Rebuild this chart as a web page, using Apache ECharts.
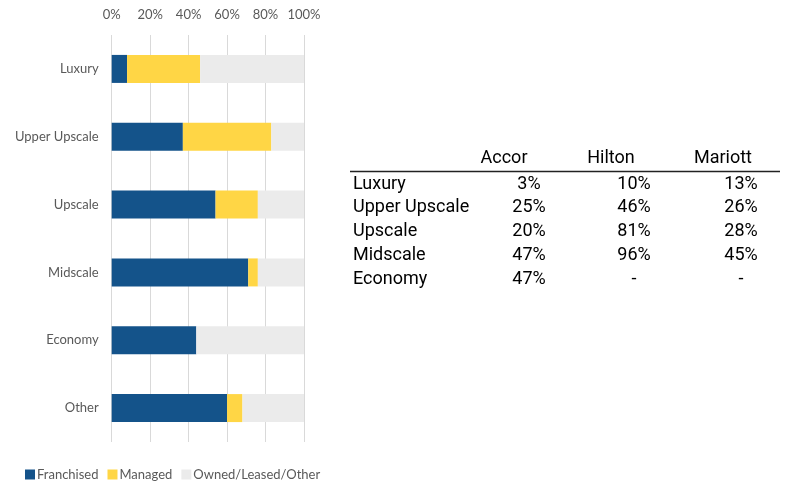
<!DOCTYPE html>
<html><head><meta charset="utf-8">
<script src="https://cdn.jsdelivr.net/npm/echarts@6/dist/echarts.min.js"></script>
<style>html,body{margin:0;padding:0;background:#fff}#c{width:787px;height:483px}</style>
</head><body><div id="c"></div>
<script>
const categories = ['Luxury','Upper Upscale','Upscale','Midscale','Economy','Other'];
const franchised = [8, 37, 54, 71, 44, 60];
const managed = [38, 46, 22, 5, 0, 8];
const owned = [54, 17, 24, 24, 56, 32];
const seriesNames = ['Franchised','Managed','Owned/Leased/Other'];
const xTicks = [0, 20, 40, 60, 80, 100];

const tableHeaders = ['Accor','Hilton','Mariott'];
const tableRows = ['Luxury','Upper Upscale','Upscale','Midscale','Economy'];
const accor = ['3%','25%','20%','47%','47%'];
const hilton = ['10%','46%','81%','96%','-'];
const mariott = ['13%','26%','28%','45%','-'];

const chart = echarts.init(document.getElementById('c'), null, {renderer:'canvas'});
const tf = {fontFamily:'Roboto', fontSize:18, fill:'#000'};
const graphic = [];
const colX = [504, 611, 723];
const valX = [529, 634, 741];
tableHeaders.forEach((h,i)=>graphic.push({type:'text', x:colX[i], y:158, style:Object.assign({text:h, textAlign:'center', textVerticalAlign:'middle'}, tf)}));
graphic.push({type:'line', shape:{x1:350,y1:171.5,x2:780,y2:171.5}, style:{stroke:'#222', lineWidth:1.5}});
const cols = [accor, hilton, mariott];
tableRows.forEach((r,j)=>{
  const y = 184 + j*23.8;
  graphic.push({type:'text', x:353, y:y, style:Object.assign({text:r, textAlign:'left', textVerticalAlign:'middle'}, tf)});
  cols.forEach((c,i)=>graphic.push({type:'text', x:valX[i], y:y, style:Object.assign({text:c[j], textAlign:'center', textVerticalAlign:'middle'}, tf)}));
});

const lab = {fontFamily:'Lato', fontSize:13, color:'#595959'};
chart.setOption({
  animation:false,
  grid:{left:111.7, right:483, top:35, bottom:41, containLabel:false},
  legend:{left:20, top:463, itemWidth:10, itemHeight:10, itemGap:9, icon:'rect',
    textStyle:{fontFamily:'Lato', fontSize:13, color:'#595959', padding:[0,0,0,-3]},
    data:seriesNames},
  xAxis:{type:'value', position:'top', min:0, max:100, interval:20,
    axisLine:{show:false}, axisTick:{show:false},
    axisLabel:Object.assign({formatter:v=>xTicks.includes(v)?v+'%':'', margin:14}, lab),
    splitLine:{lineStyle:{color:'#D9D9D9', width:1}}},
  yAxis:{type:'category', data:categories, inverse:true,
    axisLine:{show:false}, axisTick:{show:false},
    axisLabel:Object.assign({margin:13}, lab)},
  series:[
    {name:seriesNames[0], type:'bar', stack:'a', data:franchised, barWidth:28, itemStyle:{color:'#14538A'}},
    {name:seriesNames[1], type:'bar', stack:'a', data:managed, barWidth:28, itemStyle:{color:'#FFD645'}},
    {name:seriesNames[2], type:'bar', stack:'a', data:owned, barWidth:28, itemStyle:{color:'#EBEBEB'}}
  ],
  graphic:graphic
});
</script></body></html>
